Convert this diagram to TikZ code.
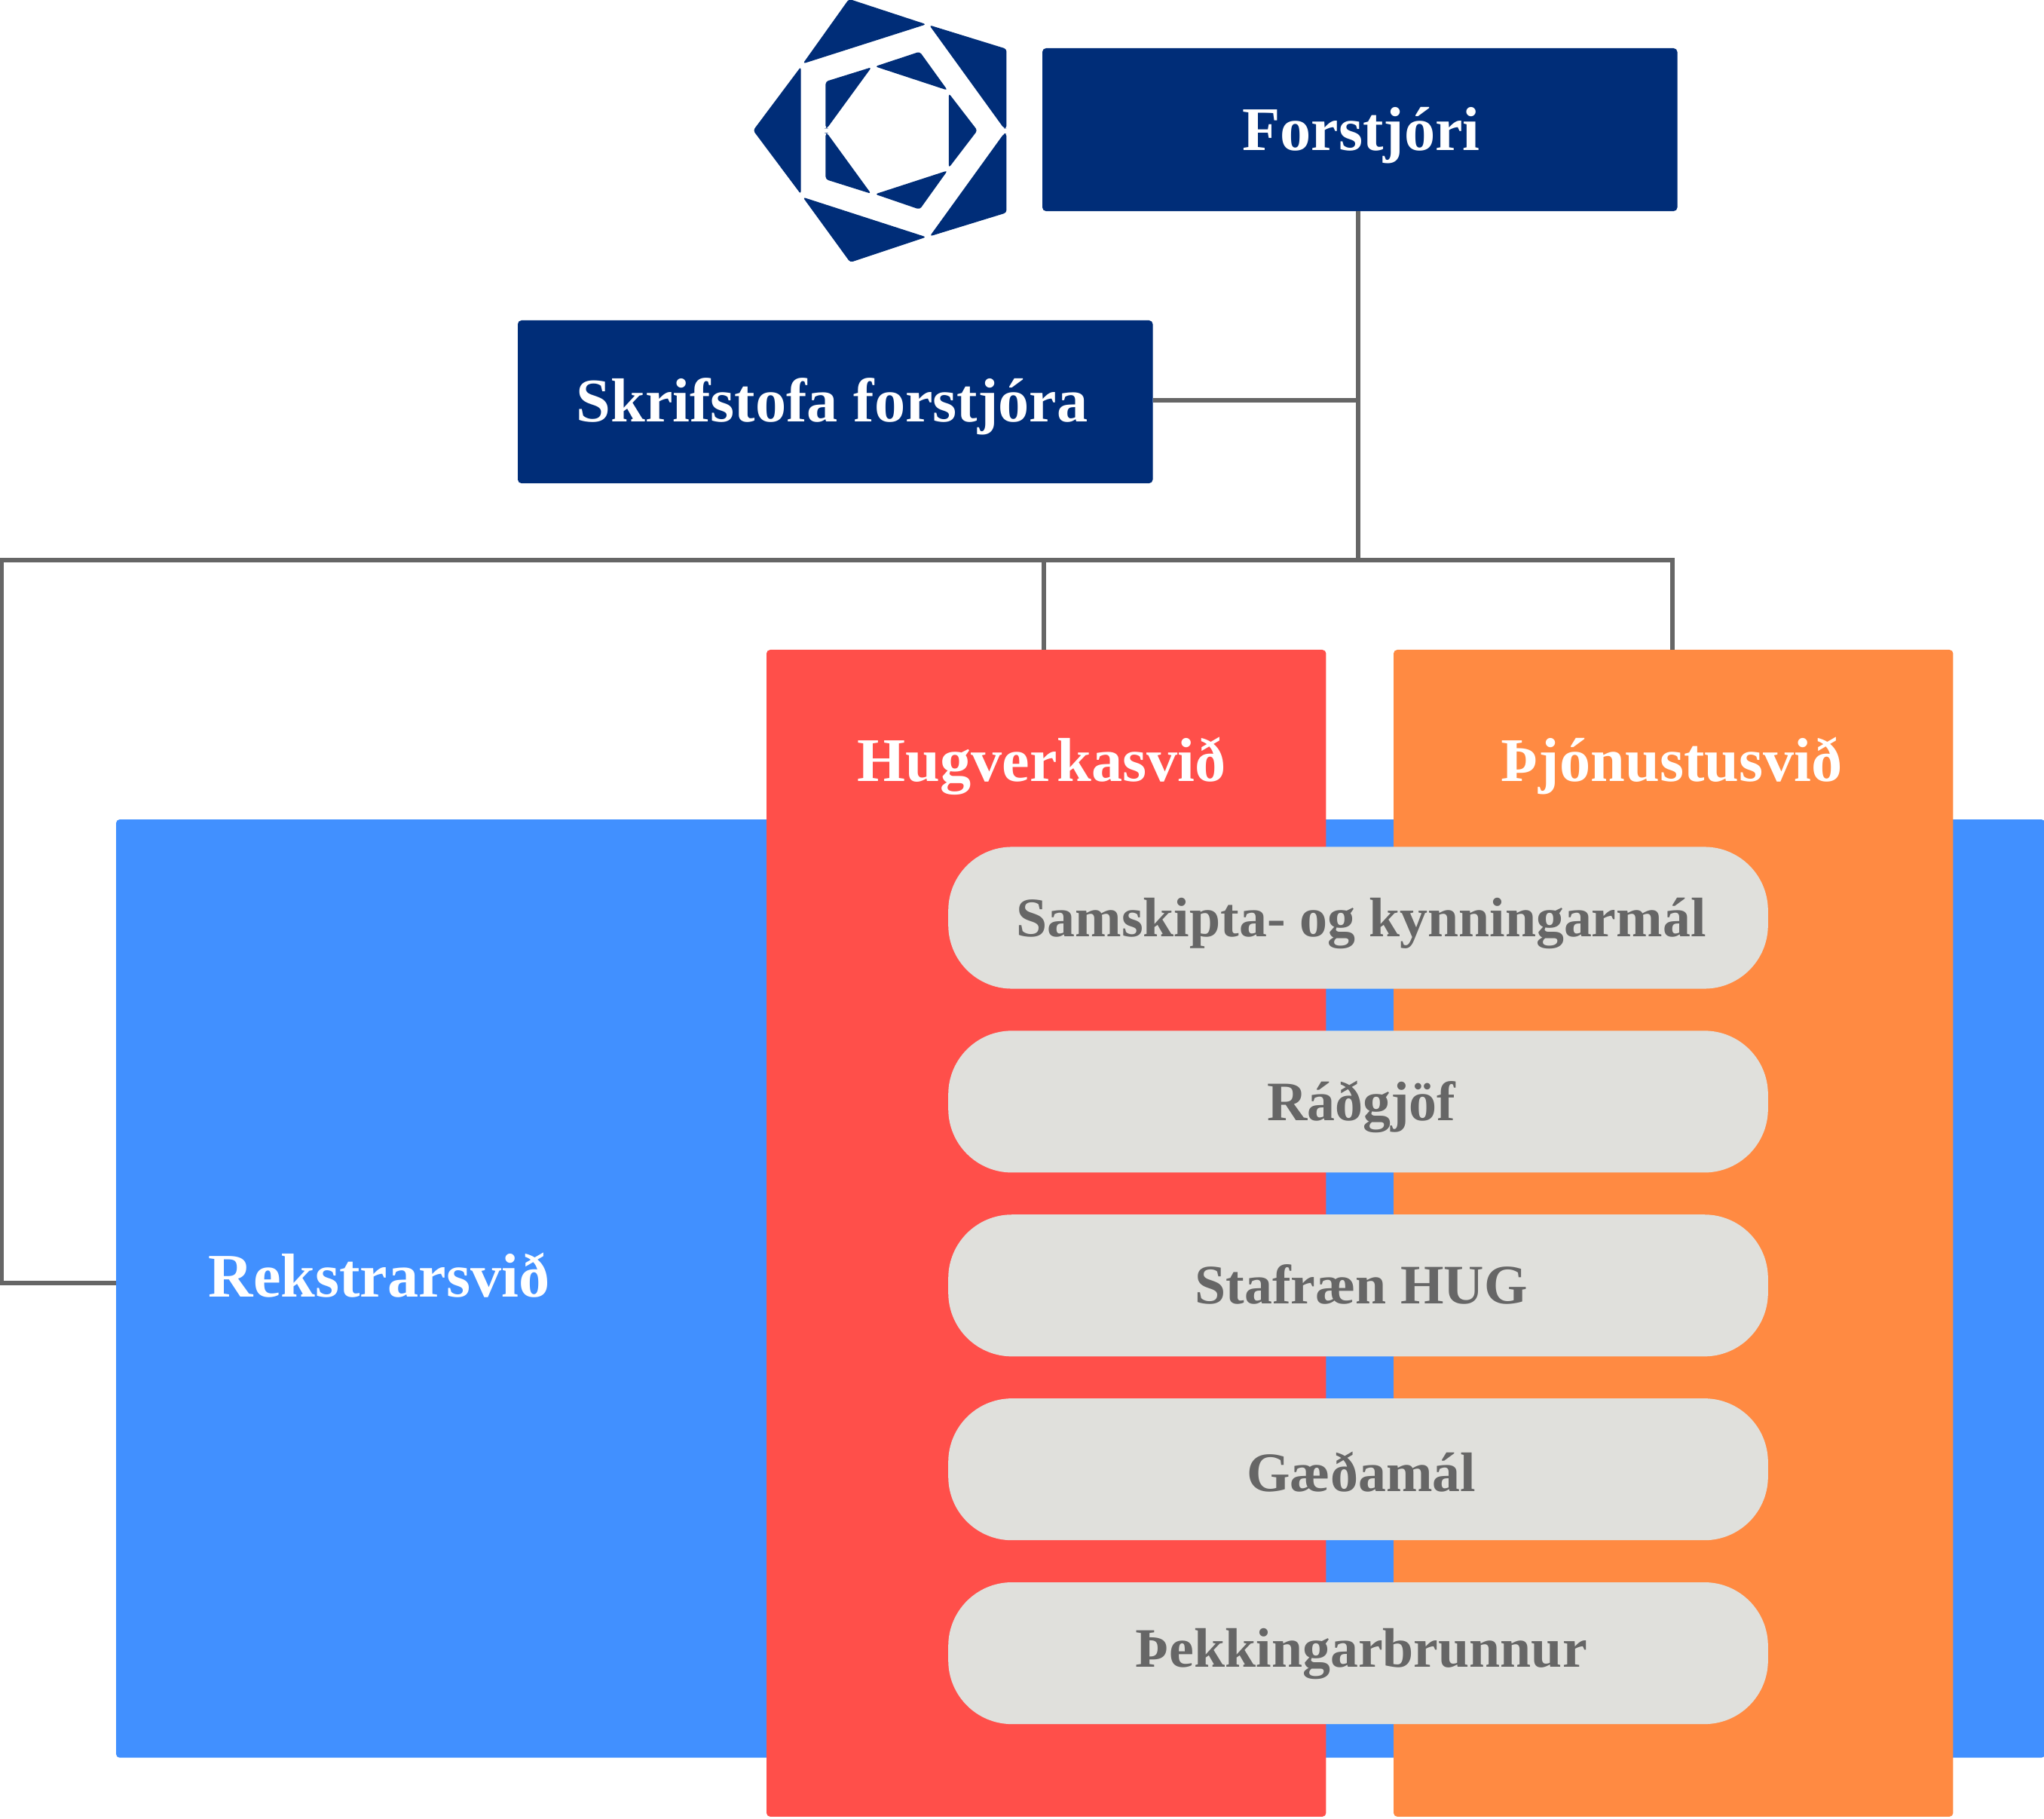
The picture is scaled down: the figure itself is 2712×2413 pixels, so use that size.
\documentclass[tikz,border=0pt]{standalone}
\usepackage{fontspec}
\setmainfont{Liberation Serif}
\usetikzlibrary{positioning}
\definecolor{navy}{HTML}{002D78}
\definecolor{svidblue}{HTML}{4190FF}
\definecolor{svidred}{HTML}{FF4F4A}
\definecolor{svidorange}{HTML}{FF8A42}
\definecolor{pillgray}{HTML}{E0E0DC}
\definecolor{linegray}{HTML}{666666}
\tikzset{
  box/.style={anchor=north west, inner sep=0pt, outer sep=0pt, rounded corners=1.4pt},
  titlebox/.style={box, fill=navy, minimum width=8.42cm, minimum height=2.16cm},
  svid/.style={box, minimum width=7.42cm, minimum height=15.47cm},
  svidlabel/.style={anchor=base, text=white, inner sep=0pt, font=\fontsize{23.4}{28}\selectfont\bfseries},
  pill/.style={fill=pillgray, text=linegray, rounded corners=24pt, inner sep=0pt, outer sep=0pt,
    text height=14pt, text depth=0pt, execute at begin node={\hspace*{2.4pt}},
    minimum width=10.87cm, minimum height=1.88cm, font=\fontsize{21}{25}\selectfont\bfseries},
  conn/.style={draw=linegray, line width=1.45pt},
  logopart/.style={fill=navy, rounded corners=1pt},
}

\begin{document}
\begin{tikzpicture}[x=0.01cm, y=-0.01cm, node distance=0.5575cm]
    \useasboundingbox (0,0) rectangle (2712,2413);
    % boxes
    \node[titlebox]                   (forstjori)  at (1383,64)  {};
    \node[titlebox]                   (skrifstofa) at (687,425)  {};
    \node[box, fill=svidblue, minimum width=25.58cm, minimum height=12.44cm] (rekstrar) at (154,1087) {};
    \node[svid, fill=svidred]         (hugverk)    at (1017,862) {};
    \node[svid, fill=svidorange]      (thjonusta)  at (1849,862) {};
    % labels
    \node[svidlabel] (forstjorilabel)  at (1806,200)  {Forstjóri};
    \node[svidlabel] (skrifstofalabel) at (1104,560)  {Skrifstofa forstjóra};
    \node[svidlabel] (hugverklabel)    at (1382,1036) {Hugverkasvið};
    \node[svidlabel] (thjonustalabel)  at (2218,1036) {Þjónustusvið};
    \node[svidlabel] (rekstrarlabel)   at (503,1720)  {Rekstrarsvið};
    % pills
    \node[pill] (samskipti) at (1802,1217.5) {Samskipta- og kynningarmál};
    \node[pill] (radgjof)   [below=of samskipti] {Ráðgjöf};
    \node[pill] (stafraen)  [below=of radgjof]   {Stafræn HUG};
    \node[pill, text height=16.5pt] (gaedamal)  [below=of stafraen]  {Gæðamál};
    \node[pill, text height=10.5pt] (thekking)  [below=of gaedamal]  {Þekkingarbrunnur};
    % connectors
    \coordinate (junction) at (1802,743);
    \coordinate (busleft)  at (2,743);
    \coordinate (rekstrarin) at (154,1702);
    \coordinate (skrifstofajoin) at (1802,531);
    \coordinate (hugverkin) at (1385,862);
    \coordinate (thjonustain) at (2219,862);
    \path[conn]
      (forstjori.south -| junction) -- (junction)
      (skrifstofa.east |- skrifstofajoin) -- (skrifstofajoin)
      (rekstrarin) -| (busleft) -| (thjonustain)
      (hugverkin |- busleft) -- (hugverkin);
    % logo
    \begin{scope}[shift={(980,0)}, x=0.00333cm, y=-0.00333cm]
      \path[logopart] (440,-4) -- (748,97) -- (256,254) -- cycle;
      \path[logopart] (760,100) -- (1068,195) -- (1068,512) -- (1058,512) -- cycle;
      \path[logopart] (1068,532) -- (1068,848) -- (762,942) -- (1058,532) -- cycle;
      \path[logopart] (256,786) -- (748,945) -- (445,1046) -- cycle;
      \path[logopart] (248,266) -- (248,774) -- (58,520) -- cycle;
      \path[logopart] (347,325) -- (530,268) -- (352,512) -- (347,512) -- cycle;
      \path[logopart] (544,265) -- (722,206) -- (833,360) -- cycle;
      \path[logopart] (838,372) -- (952,520) -- (838,669) -- cycle;
      \path[logopart] (347,530) -- (352,530) -- (528,772) -- (347,715) -- cycle;
      \path[logopart] (544,774) -- (833,680) -- (722,835) -- cycle;
    \end{scope}
  \end{tikzpicture}
\end{document}
